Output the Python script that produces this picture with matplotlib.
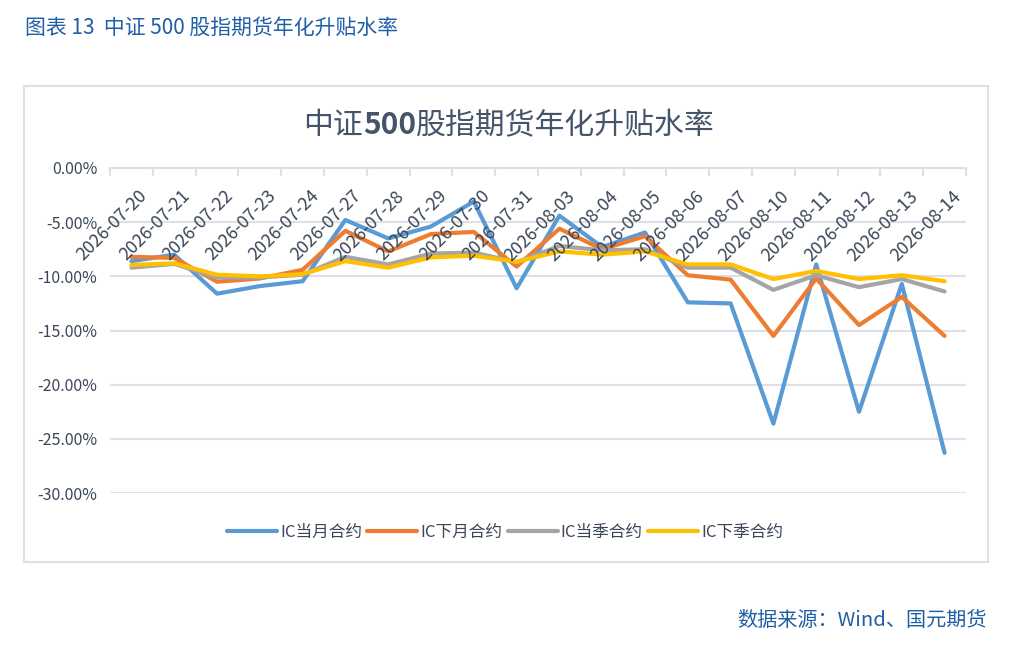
import matplotlib
matplotlib.use('Agg')
from matplotlib import pyplot as plt
from matplotlib.patches import Rectangle
from matplotlib.ticker import FuncFormatter
import numpy as np

plt.rcParams['font.family'] = ['Noto Sans CJK SC', 'DejaVu Sans']

dates = ['2026-07-20', '2026-07-21', '2026-07-22', '2026-07-23', '2026-07-24',
         '2026-07-27', '2026-07-28', '2026-07-29', '2026-07-30', '2026-07-31',
         '2026-08-03', '2026-08-04', '2026-08-05', '2026-08-06', '2026-08-07',
         '2026-08-10', '2026-08-11', '2026-08-12', '2026-08-13', '2026-08-14']

# annualised basis, in percent
ic_month = [-8.6, -8.0, -11.6, -10.9, -10.45, -4.8, -6.5, -5.4, -3.1, -11.1,
            -4.4, -7.3, -5.95, -12.4, -12.5, -23.6, -8.9, -22.5, -10.7, -26.3]
ic_next_month = [-8.2, -8.3, -10.5, -10.2, -9.4, -5.8, -7.7, -6.1, -5.9, -9.1,
                 -5.6, -7.5, -6.3, -9.9, -10.3, -15.5, -10.2, -14.5, -11.9, -15.5]
ic_quarter = [-9.2, -8.85, -10.1, -10.1, -9.85, -8.2, -8.9, -7.9, -7.8, -8.7,
              -7.2, -7.6, -7.5, -9.2, -9.2, -11.25, -9.9, -11.0, -10.25, -11.4]
ic_next_quarter = [-8.95, -8.8, -9.85, -10.0, -9.8, -8.6, -9.2, -8.25, -8.1, -8.65,
                   -7.7, -8.0, -7.7, -8.9, -8.9, -10.25, -9.5, -10.25, -9.9, -10.45]

series_names = ['IC当月合约', 'IC下月合约', 'IC当季合约', 'IC下季合约']
colors = ['#5B9BD5', '#ED7D31', '#A5A5A5', '#FFC000']

grid_color = '#dde1e7'
text_color = '#3b4658'
blue_text = '#1f5fa5'

W, H = 1017, 650
fig = plt.figure(figsize=(W / 100, H / 100), dpi=100)

# chart frame
fig.patches.append(Rectangle((24 / W, 1 - 562 / H), 964 / W, 476 / H,
                             transform=fig.transFigure, fill=False,
                             edgecolor=grid_color, linewidth=1.5))

ax = fig.add_axes([110 / W, 1 - 493 / H, 856 / W, 325 / H])
x = np.arange(len(dates))
for vals, name, c in zip([ic_month, ic_next_month, ic_quarter, ic_next_quarter],
                         series_names, colors):
    ax.plot(x, vals, color=c, linewidth=3, label=name,
            solid_capstyle='round', solid_joinstyle='round')

ax.set_xlim(-0.5, len(dates) - 0.5)
ax.set_ylim(-30, 0)
ax.set_yticks(np.arange(-30, 1, 5))
ax.yaxis.set_major_formatter(FuncFormatter(lambda v, p: f'{v:.2f}%'))
ax.grid(axis='y', color=grid_color, linewidth=1.5)
ax.set_axisbelow(True)
for s in ['left', 'right', 'bottom']:
    ax.spines[s].set_visible(False)
ax.spines['top'].set_color(grid_color)
ax.spines['top'].set_linewidth(1.5)

ax.set_xticks([])
ax.set_xticks(np.arange(-0.5, len(dates), 1), minor=True)
ax.tick_params(axis='x', which='minor', top=True, bottom=False, direction='in',
               length=6, width=1.5, color=grid_color, labelbottom=False)
ax.tick_params(axis='y', length=0, pad=9, labelsize=11.5, labelcolor=text_color)

# date labels hang under the 0% line
for i, d in enumerate(dates):
    ax.annotate(d, xy=(i, 0), xycoords=('data', 'data'),
                xytext=(7, -19), textcoords='offset pixels',
                rotation=45, rotation_mode='anchor', ha='right', va='top',
                fontsize=12.8, color=text_color, annotation_clip=False)

# title: CJK in regular weight, the number in bold
t1 = fig.text(303 / W, 1 - 122 / H, '中证', ha='left', va='center_baseline',
              fontsize=21.5, color='#44546A')
t2 = fig.text(0, 0, '500', fontsize=21.5, fontweight='bold', color='#44546A',
              ha='left', va='center_baseline')
t3 = fig.text(0, 0, '股指期货年化升贴水率', fontsize=21.5, color='#44546A',
              ha='left', va='center_baseline')
fig.canvas.draw()
r = fig.canvas.get_renderer()
b1 = t1.get_window_extent(r)
t2.set_position((b1.x1 / W, t1.get_position()[1]))
b2 = t2.get_window_extent(r)
t3.set_position((b2.x1 / W, t1.get_position()[1]))

fig.legend(loc='center', bbox_to_anchor=(505 / W, 1 - 532 / H), ncol=4, frameon=False,
           fontsize=12, labelcolor=text_color, handlelength=3.0, handletextpad=0.2,
           columnspacing=0.3)

fig.text(25 / W, 1 - 28 / H, '图表 13  中证 500 股指期货年化升贴水率', ha='left', va='center',
         fontsize=15, color=blue_text)
fig.text(987 / W, 1 - 620 / H, '数据来源：Wind、国元期货', ha='right', va='center',
         fontsize=14.5, color=blue_text, family=['Noto Sans CJK SC', 'DejaVu Sans Mono'])

fig.savefig('out.png', dpi=100)
